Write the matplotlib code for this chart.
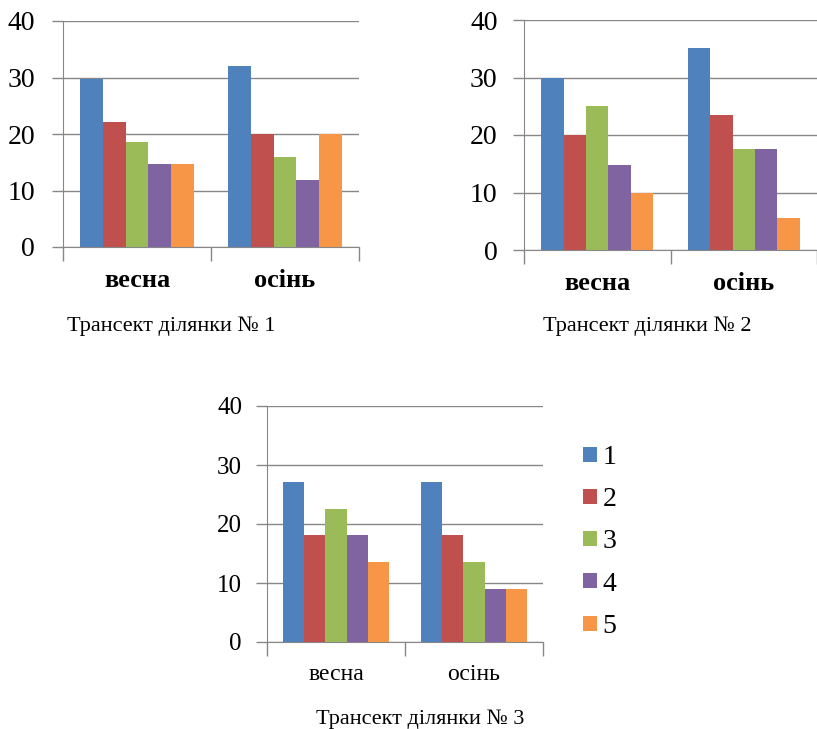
import matplotlib.pyplot as plt

# Частка (%) видів по трансектах, весна / осінь
сезони = ['весна', 'осінь']
серії = ['1', '2', '3', '4', '5']

трансект_1 = [
    [29.7, 32.0],   # 1
    [22.2, 20.0],   # 2
    [18.5, 15.9],   # 3
    [14.7, 11.9],   # 4
    [14.7, 20.0],   # 5
]
трансект_2 = [
    [30.0, 35.1],
    [20.0, 23.4],
    [25.0, 17.6],
    [14.8, 17.6],
    [9.9, 5.6],
]
трансект_3 = [
    [27.2, 27.2],
    [18.1, 18.1],
    [22.6, 13.5],
    [18.1, 9.0],
    [13.5, 9.0],
]

кольори = ['#4F81BD', '#C0504D', '#9BBB59', '#8064A2', '#F79646']
сірий = '#878787'
шрифт = 'Liberation Serif'

plt.rcParams['font.family'] = [шрифт, 'DejaVu Serif']

fig = plt.figure(figsize=(8.17, 7.29), dpi=100)
W, H = 817, 729


def оси_в_пікселях(left, top, right, bottom):
    return fig.add_axes([left / W, 1 - bottom / H, (right - left) / W, (bottom - top) / H])


def малюй(ax, дані, xmax, розмір_y, відступ_y, розмір_x, відступ_x, жирний):
    ширина = 0.153
    for i, значення in enumerate(дані):
        xs = [k + (i - 2) * ширина for k in range(len(сезони))]
        ax.bar(xs, значення, width=ширина, color=кольори[i], label=серії[i], zorder=3)
    ax.set_ylim(0, 40)
    ax.set_xlim(-0.5, xmax)
    ax.set_yticks([0, 10, 20, 30, 40])
    ax.tick_params(axis='y', length=8, width=1, color=сірий, labelsize=розмір_y, pad=відступ_y)
    # межі категорій — риски вниз, підписи сезонів по центру
    ax.set_xticks([-0.5, 0.5, 1.5])
    ax.set_xticklabels([])
    ax.tick_params(axis='x', which='major', length=10, width=1, color=сірий, direction='out')
    ax.set_xticks([0, 1], minor=True)
    ax.set_xticklabels(сезони, minor=True, fontsize=розмір_x,
                       fontweight='bold' if жирний else 'normal')
    ax.tick_params(axis='x', which='minor', length=0, pad=відступ_x)
    ax.grid(axis='y', color=сірий, linewidth=1, zorder=0)
    for s in ['top', 'right']:
        ax.spines[s].set_visible(False)
    ax.spines['left'].set_color(сірий)
    ax.spines['bottom'].set_color(сірий)
    ax.spines['left'].set_zorder(4)
    ax.spines['bottom'].set_zorder(4)


ax1 = оси_в_пікселях(63, 21, 359, 247)
малюй(ax1, трансект_1, 1.5, 20, 12, 19, 16, True)

ax2 = оси_в_пікселях(524, 20, 817, 250)
малюй(ax2, трансект_2, 1.48, 20, 11, 19, 16, True)

ax3 = оси_в_пікселях(267, 406, 543, 642)
малюй(ax3, трансект_3, 1.5, 18, 10, 17, 16, False)

ax3.legend(loc='center left', bbox_to_anchor=(583 / W, 1 - 542 / H),
           bbox_transform=fig.transFigure, frameon=False, fontsize=20,
           handlelength=0.5, handleheight=0.45, handletextpad=0.2,
           labelspacing=0.62, borderpad=0, borderaxespad=0)

fig.text(67 / W, 1 - 326 / H, 'Трансект ділянки № 1', fontsize=16, va='center', ha='left')
fig.text(543 / W, 1 - 326 / H, 'Трансект ділянки № 2', fontsize=16, va='center', ha='left')
fig.text(316 / W, 1 - 719 / H, 'Трансект ділянки № 3', fontsize=16, va='center', ha='left')

fig.savefig('out.png', dpi=100, facecolor='white')
